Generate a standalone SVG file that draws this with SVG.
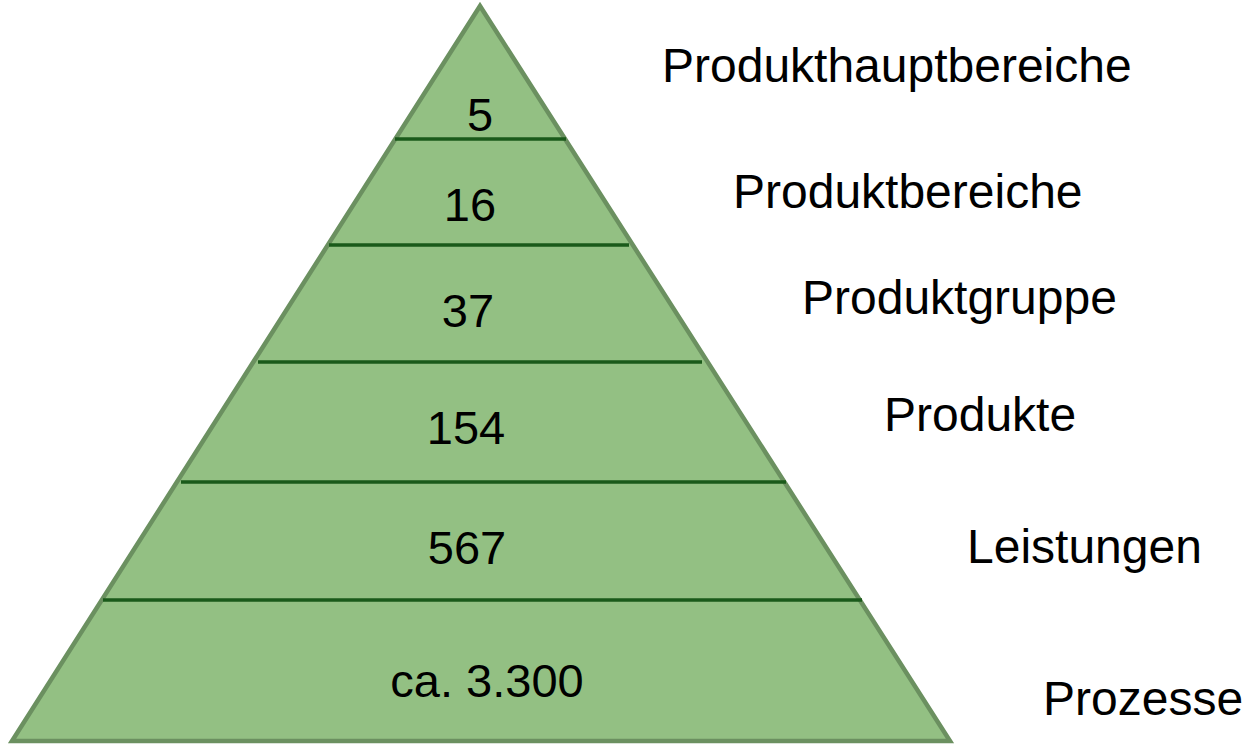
<svg xmlns="http://www.w3.org/2000/svg" width="1247" height="745" viewBox="0 0 1247 745">
<style>
.tri{fill:#93c083;stroke:#6b9060;stroke-width:4.5;stroke-linejoin:miter}
.div{stroke:#1a5a1a;stroke-width:3.5}
.num{font-family:"Liberation Sans",Arial,sans-serif;font-size:47px;fill:#000;text-anchor:middle}
.lbl{font-family:"Liberation Sans",Arial,sans-serif;font-size:48px;fill:#000}
</style>
<rect width="1247" height="745" fill="#fff"/>
<g id="pyramid">
<polygon class="tri" points="480,6 12,741 950,741"/>
</g>
<g id="dividers">
<line class="div" x1="395" y1="139" x2="566" y2="139"/>
<line class="div" x1="329" y1="245" x2="629" y2="245"/>
<line class="div" x1="258" y1="362" x2="702" y2="362"/>
<line class="div" x1="181" y1="482" x2="786" y2="482"/>
<line class="div" x1="103" y1="600" x2="862" y2="600"/>
</g>
<g id="level1"><text class="num" x="480" y="131">5</text><text class="lbl" x="662" y="82">Produkthauptbereiche</text></g>
<g id="level2"><text class="num" x="470" y="221">16</text><text class="lbl" x="733" y="208">Produktbereiche</text></g>
<g id="level3"><text class="num" x="468" y="327">37</text><text class="lbl" x="802" y="314">Produktgruppe</text></g>
<g id="level4"><text class="num" x="466" y="444">154</text><text class="lbl" x="884" y="431">Produkte</text></g>
<g id="level5"><text class="num" x="467" y="564">567</text><text class="lbl" x="967" y="563">Leistungen</text></g>
<g id="level6"><text class="num" x="487" y="697">ca. 3.300</text><text class="lbl" x="1043" y="715">Prozesse</text></g>
</svg>
